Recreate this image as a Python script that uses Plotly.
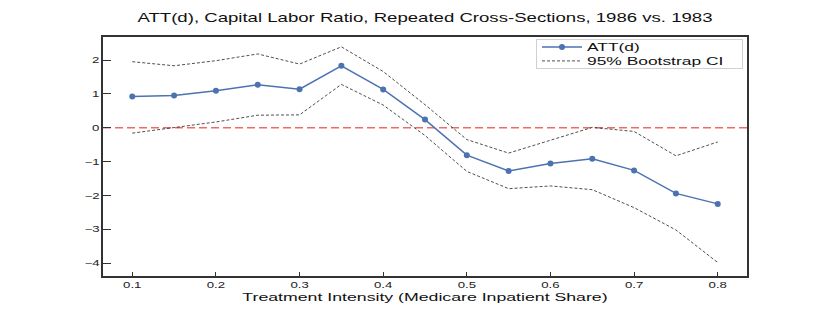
import plotly.graph_objects as go

x_vals = [0.1, 0.15, 0.2, 0.25, 0.3, 0.35, 0.4, 0.45, 0.5, 0.55, 0.6, 0.65, 0.7, 0.75, 0.8]
att = [0.92, 0.95, 1.09, 1.27, 1.14, 1.83, 1.13, 0.24, -0.81, -1.28, -1.06, -0.92, -1.26, -1.94, -2.25]
ci_upper = [1.95, 1.83, 1.98, 2.18, 1.88, 2.39, 1.66, 0.68, -0.35, -0.75, -0.37, 0.01, -0.11, -0.83, -0.42]
ci_lower = [-0.16, 0.0, 0.17, 0.37, 0.38, 1.28, 0.67, -0.23, -1.29, -1.80, -1.72, -1.83, -2.36, -3.02, -3.98]
x_ticks = [0.1, 0.2, 0.3, 0.4, 0.5, 0.6, 0.7, 0.8]
y_ticks = [-4, -3, -2, -1, 0, 1, 2]

font_family = "Liberation Sans, Arial, sans-serif"

fig = go.Figure()
fig.add_trace(go.Scatter(
    x=x_vals, y=att, mode="lines+markers", name="ATT(d)",
    line=dict(color="#4C72B0", width=1.5),
    marker=dict(color="#4C72B0", size=6),
))
fig.add_trace(go.Scatter(
    x=x_vals, y=ci_upper, mode="lines", name="95% Bootstrap CI",
    line=dict(color="#222222", width=0.8, dash="3px,2px"),
))
fig.add_trace(go.Scatter(
    x=x_vals, y=ci_lower, mode="lines", name="95% Bootstrap CI", showlegend=False,
    line=dict(color="#222222", width=0.8, dash="3px,2px"),
))

fig.add_shape(type="line", xref="paper", yref="y", x0=0, x1=1, y0=0, y1=0,
              line=dict(color="rgba(238,90,90,0.9)", width=1.5, dash="8px,4px"), layer="below")

fig.update_layout(
    width=830, height=310,
    margin=dict(l=103, r=83, t=37, b=34),
    paper_bgcolor="white", plot_bgcolor="white",
    font=dict(family=font_family, color="#222222", size=9),
    title=dict(text="ATT(d), Capital Labor Ratio, Repeated Cross-Sections, 1986 vs. 1983",
               x=(103 + 747) / 2 / 830, xanchor="center", y=1 - 18 / 310, yanchor="middle",
               font=dict(size=12.4, family=font_family, color="#111111")),
    showlegend=True,
    legend=dict(x=(536 - 103) / 644, y=0.992, xanchor="left", yanchor="top",
                bordercolor="#d0d0d0", borderwidth=1, bgcolor="rgba(255,255,255,0.9)",
                font=dict(size=11.6, family=font_family, color="#111111"),
                tracegroupgap=0, itemwidth=40),
)
fig.update_xaxes(
    range=[0.065, 0.835], tickvals=x_ticks, ticktext=[f"{v:.1f}" for v in x_ticks],
    showgrid=False, zeroline=False, showline=True, linecolor="#333333", linewidth=1.5,
    mirror=True, ticks="inside", ticklen=4, tickwidth=1, tickcolor="#333333",
    title=dict(text="Treatment Intensity (Medicare Inpatient Share)", standoff=0,
               font=dict(size=11.8, family=font_family, color="#111111")),
    tickfont=dict(size=8.8),
)
fig.update_yaxes(
    range=[-4.38, 2.68], tickvals=y_ticks,
    showgrid=False, zeroline=False, showline=True, linecolor="#333333", linewidth=1.5,
    mirror=True, ticks="inside", ticklen=8, tickwidth=1, tickcolor="#333333",
    tickfont=dict(size=8.8),
)

post_js = """
document.body.style.margin = '0';
var gd = document.getElementById('{plot_id}');
var K = 1.5;
var LEG_W = 206, LEG_H = 29, ROW0 = 8, ROW_STEP = 14;
function stretchTexts() {
  gd.querySelectorAll('svg text').forEach(function (t) {
    if (t.getAttribute('data-stretched')) return;
    var w = t.getComputedTextLength();
    if (!w) return;
    t.setAttribute('lengthAdjust', 'spacingAndGlyphs');
    t.setAttribute('textLength', (w * K).toFixed(2));
    t.setAttribute('data-stretched', '1');
  });
  var leg = gd.querySelector('g.legend');
  if (leg) {
    leg.querySelectorAll('[clip-path]').forEach(function (e) { e.removeAttribute('clip-path'); });
    var bg = leg.querySelector('rect.bg');
    if (bg) { bg.setAttribute('width', LEG_W); bg.setAttribute('height', LEG_H); }
    leg.querySelectorAll('g.traces').forEach(function (g, i) {
      var tr = g.getAttribute('transform') || '';
      var m = tr.match(/translate\\(([-\\d.]+)[ ,]*([-\\d.]*)\\)/);
      var x = m ? parseFloat(m[1]) : 0;
      g.setAttribute('transform', 'translate(' + x + ',' + (ROW0 + i * ROW_STEP) + ')');
    });
  }
}
stretchTexts();
if (gd.on) gd.on('plotly_afterplot', stretchTexts);
setTimeout(stretchTexts, 30);
setTimeout(stretchTexts, 200);
"""

fig.write_html("out.html", post_script=post_js, config={"displayModeBar": False})
